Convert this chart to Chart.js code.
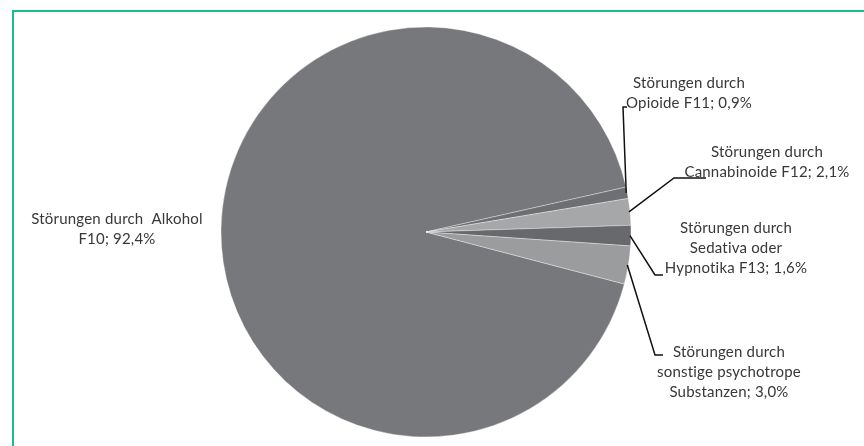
<!DOCTYPE html>
<html>
<head>
<meta charset="utf-8">
<script src="https://cdn.jsdelivr.net/npm/chart.js@4.4.1/dist/chart.umd.min.js"></script>
<style>
  html,body{margin:0;padding:0;background:#fff;}
  #wrap{position:relative;width:864px;height:446px;overflow:hidden;}
  #frame{position:absolute;left:12px;top:10px;right:-10px;bottom:-10px;border-left:2px solid #17bf8c;border-top:2px solid #17bf8c;}
  canvas{position:absolute;left:0;top:0;}
</style>
</head>
<body>
<div id="wrap">
  <div id="frame"></div>
  <canvas id="pie" width="864" height="446"></canvas>
</div>
<script>
// ── Daten ────────────────────────────────────────────────────────────────────
const categories = ['Alkohol F10', 'Opioide F11', 'Cannabinoide F12', 'Sedativa oder Hypnotika F13', 'sonstige psychotrope Substanzen'];
const shares     = [92.4, 0.9, 2.1, 1.6, 3.0];
const sliceColors = ['#77787b', '#6e6f72', '#a6a7a9', '#68696c', '#9b9c9e'];
// Beschriftung (Zeilen, letzte Zeile bekommt den Wert angehängt)
const labelTexts = [
  ['Störungen durch  Alkohol', 'F10'],
  ['Störungen durch', 'Opioide F11'],
  ['Störungen durch', 'Cannabinoide F12'],
  ['Störungen durch', 'Sedativa oder', 'Hypnotika F13'],
  ['Störungen durch', 'sonstige psychotrope', 'Substanzen'],
];

// Position der Beschriftungen + Führungslinien (Layout)
const LABEL_LAYOUT = [
  { cx:117, y:219 },
  { cx:689, y:83,  leader:[[623,107],[627,107]] },
  { cx:767, y:152, leader:[[674,178],[706,178]] },
  { cx:736, y:228, leader:[[655,275],[663,275]] },
  { cx:729, y:352, leader:[[655,355],[663,355]] },
];

const fmt = v => v.toFixed(1).replace('.', ',') + '%';

// ── Plugin: Datenbeschriftungen mit Führungslinien ───────────────────────────
const pieLabels = {
  id:'pieLabels',
  afterDatasetsDraw(chart) {
    const ctx = chart.ctx;
    const arcs = chart.getDatasetMeta(0).data;
    ctx.save();
    arcs.forEach((arc, i) => {
      const lay = LABEL_LAYOUT[i];
      const {x, y, startAngle, endAngle, outerRadius} = arc.getProps(['x','y','startAngle','endAngle','outerRadius'], true);
      if (lay.leader) {
        const mid = (startAngle + endAngle) / 2;
        ctx.beginPath();
        ctx.moveTo(x + Math.cos(mid) * (outerRadius - 1), y + Math.sin(mid) * (outerRadius - 1));
        lay.leader.forEach(([px, py]) => ctx.lineTo(px, py));
        ctx.strokeStyle = '#111';
        ctx.lineWidth = 1.5;
        ctx.stroke();
      }
      const lines = labelTexts[i].slice();
      lines[lines.length - 1] += '; ' + fmt(shares[i]);
      ctx.fillStyle = '#383838';
      ctx.font = '15px Lato, "Open Sans", sans-serif';
      ctx.letterSpacing = '0.2px';
      ctx.textAlign = 'center';
      ctx.textBaseline = 'middle';
      lines.forEach((t, k) => ctx.fillText(t, lay.cx, lay.y + k * 20));
    });
    ctx.restore();
  }
};

new Chart(document.getElementById('pie'), {
  type:'pie',
  data:{
    labels:categories,
    datasets:[{ data:shares, backgroundColor:sliceColors, borderColor:'rgba(255,255,255,0.35)', borderWidth:1 }]
  },
  options:{
    responsive:false, animation:false,
    rotation:104.7, radius:205,
    layout:{ padding:{ left:0, right:12, top:19, bottom:1 } },
    plugins:{ legend:{display:false}, tooltip:{enabled:false} },
  },
  plugins:[pieLabels],
});
</script>
</body>
</html>
